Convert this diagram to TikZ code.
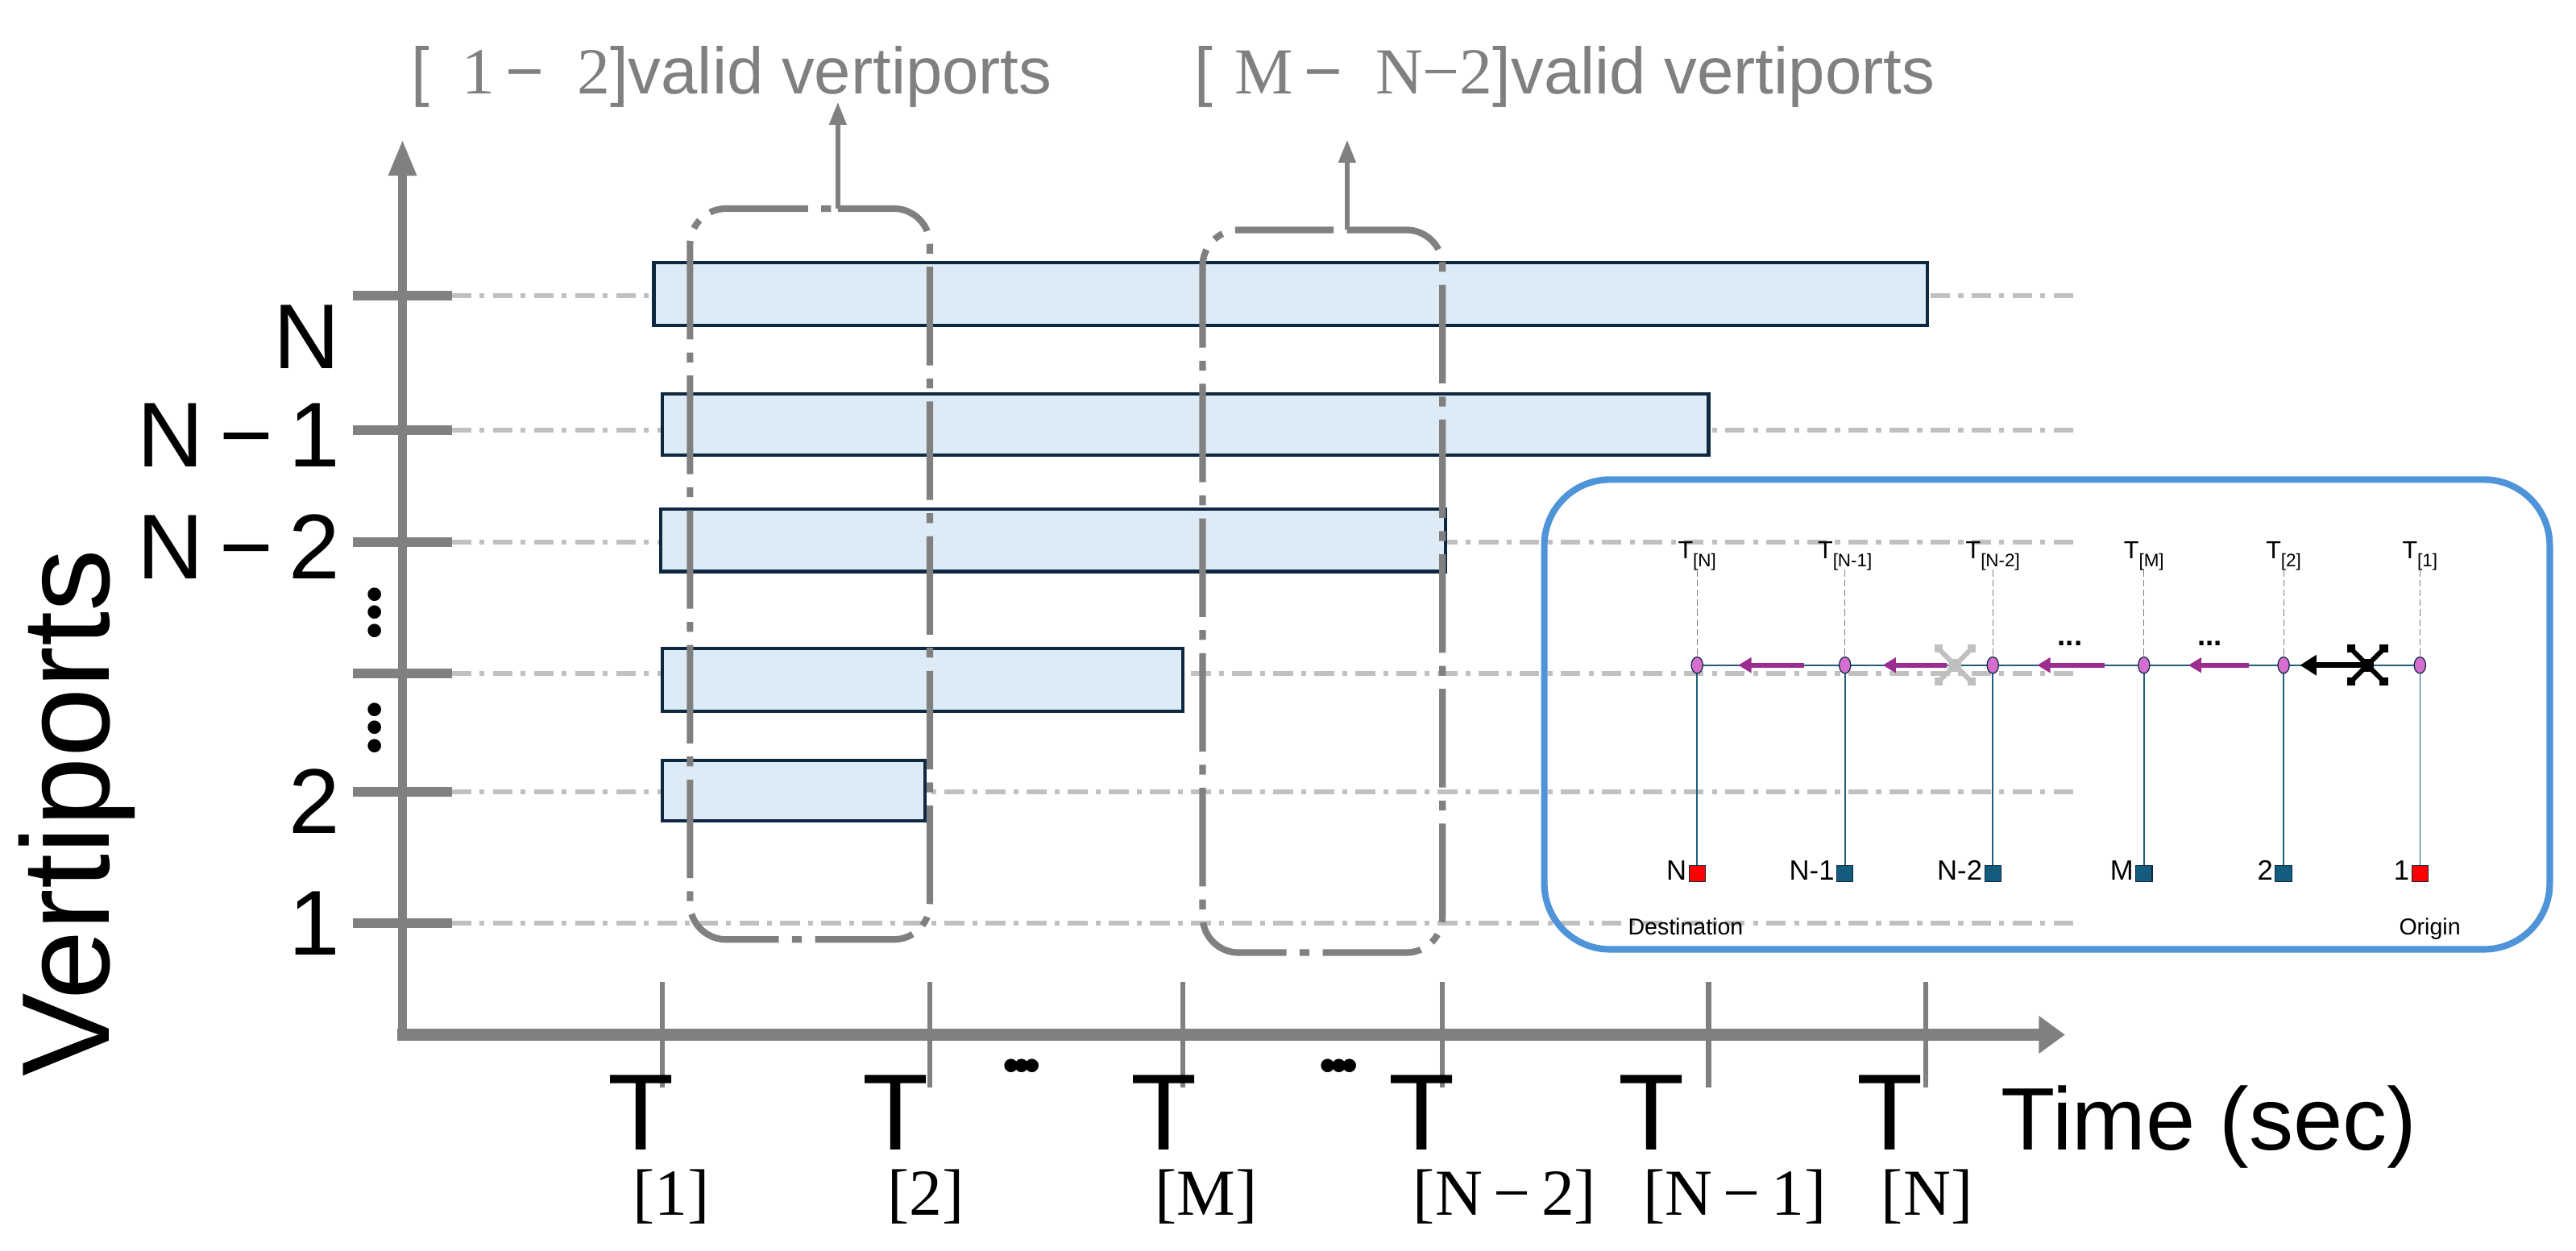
\documentclass[tikz,border=0pt]{standalone}
\usepackage{fontspec}
\setmainfont{Liberation Sans}
\newfontfamily\serifT{Liberation Serif}
\usetikzlibrary{arrows.meta,shapes.geometric}
\definecolor{axg}{HTML}{808080}
\definecolor{lg}{HTML}{C0C0C0}
\definecolor{barfill}{HTML}{DDEBF7}
\definecolor{bardraw}{HTML}{0E2841}
\definecolor{insetblue}{HTML}{4F93D8}
\definecolor{teal}{HTML}{1F5F7A}
\definecolor{sq}{HTML}{145C7E}
\definecolor{dotc}{HTML}{D46FCF}
\definecolor{purp}{HTML}{9B2D8F}
\tikzset{
  fs/.style={font=\fontsize{#1}{#1}\selectfont},
  gridl/.style={lg,line width=3pt,dash pattern=on 12pt off 5pt on 3pt off 5pt},
  ytk/.style={axg,line width=6pt},
  xtk/.style={axg,line width=3pt},
  bar/.style={fill=barfill,draw=bardraw,line width=2pt},
  vbox/.style={axg,line width=4pt,rounded corners=22pt,dash pattern=on 60pt off 8pt on 6pt off 8pt},
  uparr/.style={axg,line width=3pt,-{Triangle[length=14pt,width=10pt]}},
  dot/.style={ellipse,draw=bardraw,fill=dotc,line width=0.6pt,minimum width=7pt,minimum height=10pt,inner sep=0pt},
  port/.style={rectangle,draw=bardraw,line width=0.5pt,minimum size=10pt,inner sep=0pt},
  parr/.style={purp,line width=3pt,-{Triangle[length=8pt,width=9pt]}},
}
\begin{document}
\begin{tikzpicture}[x=1pt,y=-1pt]
\useasboundingbox (0,0) rectangle (1568,761.6);
% grid lines
\foreach \y in {180,262,330,410,482,562}{\draw[gridl] (275,\y) -- (1265,\y);}
% bars
\draw[bar] (398,160) rectangle (1173,198);
\draw[bar] (403,240) rectangle (1040,277);
\draw[bar] (402,310) rectangle (880,348);
\draw[bar] (403,395) rectangle (720,433);
\draw[bar] (403,463) rectangle (563,500);
% dash-dot groups
\draw[vbox] (510,127) -- (566,127) -- (566,572) -- (420,572) -- (420,127) -- (510,127);
\draw[vbox] (820,140) -- (878,140) -- (878,580) -- (732,580) -- (732,140) -- (820,140);
\coordinate (g1) at (510,127); \coordinate (g1t) at (510,62);
\coordinate (g2) at (820,140); \coordinate (g2t) at (820,85);
\draw[uparr] (g1) -- (g1t);
\draw[uparr] (g2) -- (g2t);
\node[fs=40,text=axg,anchor=base west,inner sep=0pt] (lab1) at (250,57) {[\,\,\,{\serifT 1}\,\textminus\,\,\,{\serifT 2}]valid vertiports};
\node[fs=40,text=axg,anchor=base west,inner sep=0pt] (lab2) at (727,57) {[\,\,{\serifT M}\,\textminus\,\,\,{\serifT N\textminus2}]valid vertiports};
% axes
\coordinate (ytop) at (245,85);
\coordinate (xend) at (1257,630);
\draw[axg,line width=5pt,-{Triangle[length=22pt,width=16pt]}] (245,632) -- (ytop);
\draw[axg,line width=7pt,-{Triangle[length=16pt,width=22pt]}] (242,630) -- (xend);
\foreach \y in {180,262,330,410,482,562}{\draw[ytk] (215,\y) -- (275,\y);}
\foreach \x in {403,566,720,878,1040,1172}{\draw[xtk] (\x,598) -- (\x,662);}
% y labels
\node[fs=56,anchor=east,inner sep=0pt] (yN) at (207,205) {N};
\node[fs=56,anchor=east,inner sep=0pt] (yN1) at (207,265) {N\,\textminus\,1};
\node[fs=56,anchor=east,inner sep=0pt] (yN2) at (207,333) {N\,\textminus\,2};
\node[fs=56,anchor=east,inner sep=0pt] (y2) at (207,488) {2};
\node[fs=56,anchor=east,inner sep=0pt] (y1) at (207,562) {1};
\node[fs=30,inner sep=0pt,align=center] (vd1) at (228,376) {\textbullet\\[-19pt]\textbullet\\[-19pt]\textbullet};
\node[fs=30,inner sep=0pt,align=center] (vd2) at (228,446) {\textbullet\\[-19pt]\textbullet\\[-19pt]\textbullet};
\node[fs=76,rotate=90,inner sep=0pt] (ylab) at (47,495) {Vertiports};
\node[fs=54,anchor=west,inner sep=0pt] (xlab) at (1218,686) {Time (sec)};
% x labels
\foreach \x/\s/\n in {370/1/a,525/2/b,688/M/c,845/N\,\textminus\,2/d,985/N\,\textminus\,1/e,1130/N/f}{
  \node[anchor=base west,inner sep=0pt,font=\fontsize{66}{66}\selectfont] (t\n) at (\x,700) {T};
  \node[anchor=base west,inner sep=0pt,font=\serifT\fontsize{40}{40}\selectfont] (s\n) at (\x+15,740) {[\s]};
}
\node[fs=30,inner sep=0pt] (dd1) at (622,652) {\textbullet\kern-4pt\textbullet\kern-4pt\textbullet};
\node[fs=30,inner sep=0pt] (dd2) at (815,652) {\textbullet\kern-4pt\textbullet\kern-4pt\textbullet};
% inset
\draw[insetblue,line width=4pt,rounded corners=40pt] (940,292) rectangle (1552,578);
\coordinate (hl) at (1033,405); \coordinate (hr) at (1473,405);
\draw[teal,line width=0.8pt] (hl) -- (hr);
\foreach \x/\t/\n/\lab/\c in {1033/N/A/N/red,1123/N-1/B/N-1/sq,1213/N-2/C/N-2/sq,1305/M/D/M/sq,1390/2/E/2/sq,1473/1/F/1/red}{
  \node[anchor=base,inner sep=0pt,font=\fontsize{15}{15}\selectfont] (it\n) at (\x,340) {T\raisebox{-5pt}{\fontsize{11}{11}\selectfont[\t]}};
  \node[port,fill=\c] (p\n) at (\x,532) {};
  \node[anchor=south east,inner sep=1pt,font=\fontsize{17}{17}\selectfont] (pl\n) at (p\n.south west) {\lab};
  \coordinate (ct\n) at (\x,347);
  \draw[axg,line width=0.6pt,dash pattern=on 4pt off 2pt] (ct\n) -- (\x,400);
  \draw[teal,line width=0.8pt] (\x,405) -- (p\n.north);
  \node[dot] (d\n) at (\x,405) {};
}
\node[anchor=base,inner sep=0pt,font=\fontsize{14}{14}\selectfont] (dest) at (1026,569) {Destination};
\node[anchor=base,inner sep=0pt,font=\fontsize{14}{14}\selectfont] (orig) at (1479,569) {Origin};
\coordinate (a1s) at (1098,405); \coordinate (a1e) at (1058,405);
\coordinate (a2s) at (1185,405); \coordinate (a2e) at (1146,405);
\coordinate (a3s) at (1281,405); \coordinate (a3e) at (1240,405);
\coordinate (a4s) at (1369,405); \coordinate (a4e) at (1332,405);
\draw[parr] (a1s) -- (a1e);
\draw[parr] (a2s) -- (a2e);
\draw[parr] (a3s) -- (a3e);
\draw[parr] (a4s) -- (a4e);
\coordinate (bs) at (1438,405); \coordinate (be) at (1400,405);
\draw[black,line width=3.5pt,-{Triangle[length=10pt,width=12pt]}] (bs) -- (be);
\node[font=\bfseries\fontsize{18}{18}\selectfont,inner sep=0pt] (e1) at (1260,392) {...};
\node[font=\bfseries\fontsize{18}{18}\selectfont,inner sep=0pt] (e2) at (1345,392) {...};
% drones
\foreach \cx/\cc in {1190/lg,1441/black}{
  \draw[\cc,line width=3pt] (\cx-9,396) -- (\cx+9,414) (\cx-9,414) -- (\cx+9,396);
  \fill[\cc] (\cx-4,401) rectangle (\cx+4,409);
  \foreach \dx/\dy in {-10/-10,10/-10,-10/10,10/10}{\fill[\cc] (\cx+\dx-2.5,405+\dy-2.5) rectangle (\cx+\dx+2.5,405+\dy+2.5);}
}
\end{tikzpicture}
\end{document}
